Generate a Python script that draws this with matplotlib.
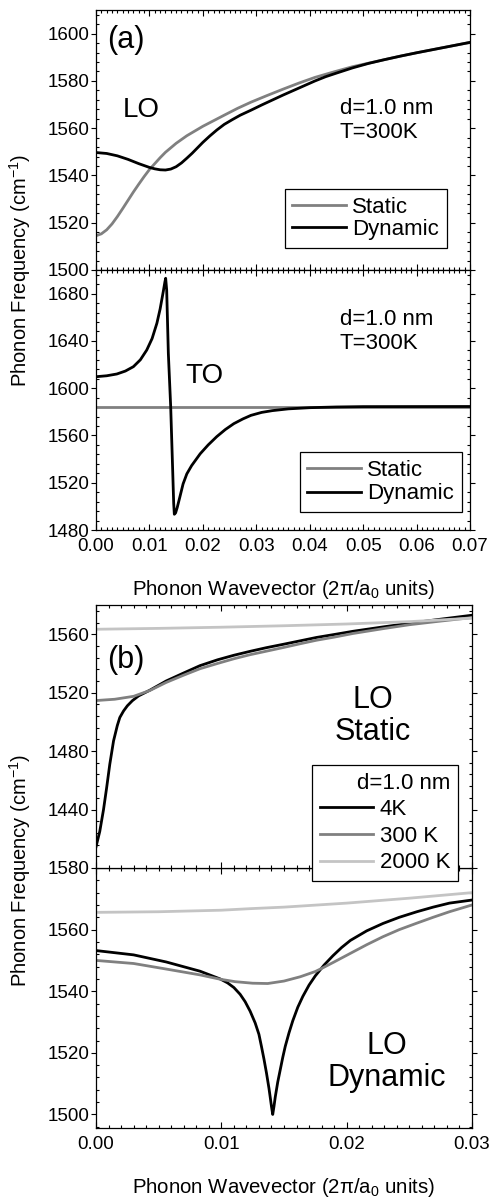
import matplotlib
matplotlib.use("Agg")
import matplotlib.pyplot as plt
from matplotlib.ticker import MultipleLocator, FixedLocator, FormatStrFormatter

plt.rcParams['font.family'] = ['Liberation Sans', 'DejaVu Sans']
plt.rcParams['mathtext.fontset'] = 'custom'
plt.rcParams['mathtext.rm'] = 'Liberation Sans'
plt.rcParams['mathtext.it'] = 'Liberation Sans:italic'
plt.rcParams['mathtext.default'] = 'regular'

# ---------------- data ----------------
# (a) LO, d=1.0 nm, T=300K
lo_static_q = [0, 0.001, 0.002, 0.003, 0.004, 0.005, 0.006, 0.007, 0.008, 0.009,
               0.010, 0.011, 0.012, 0.013, 0.015, 0.017, 0.020, 0.024, 0.0265, 0.029,
               0.032, 0.035, 0.038, 0.041, 0.0445, 0.048, 0.051, 0.054, 0.057, 0.060,
               0.065, 0.070]
lo_static_f = [1514.5, 1515.3, 1517.0, 1519.5, 1522.6, 1526.0, 1529.5, 1533.0, 1536.3, 1539.5,
               1542.5, 1545.0, 1547.5, 1549.8, 1553.6, 1556.8, 1560.8, 1565.5, 1568.4, 1571.0,
               1573.8, 1576.5, 1579.1, 1581.5, 1583.8, 1586.0, 1587.5, 1589.0, 1590.5, 1591.9,
               1594.1, 1596.3]
lo_dyn_q = [0, 0.002, 0.004, 0.006, 0.008, 0.010, 0.011, 0.012, 0.013, 0.014, 0.015,
            0.016, 0.017, 0.018, 0.019, 0.020, 0.0213, 0.0226, 0.024, 0.0255, 0.027,
            0.029, 0.031, 0.033, 0.035, 0.037, 0.039, 0.041, 0.043, 0.045, 0.048,
            0.051, 0.054, 0.057, 0.060, 0.065, 0.070]
lo_dyn_f = [1549.7, 1549.3, 1548.3, 1546.8, 1545.0, 1543.4, 1542.8, 1542.4, 1542.3, 1542.7, 1543.7,
            1545.3, 1547.3, 1549.4, 1551.7, 1554.0, 1556.7, 1559.2, 1561.6, 1563.6, 1565.5,
            1567.6, 1569.8, 1571.9, 1574.0, 1576.0, 1578.0, 1580.0, 1581.8, 1583.3, 1585.5,
            1587.4, 1589.0, 1590.5, 1591.9, 1594.1, 1596.3]

# (a) TO, d=1.0 nm, T=300K
to_static_q = [0, 0.070]
to_static_f = [1584.5, 1584.5]
to_dyn_q = [0, 0.002, 0.0039, 0.0055, 0.007, 0.0083, 0.0095, 0.0105, 0.0114, 0.0120,
            0.0126, 0.0129, 0.01304, 0.01323, 0.01354, 0.01398, 0.01435, 0.01454, 0.01466,
            0.0149, 0.0152, 0.0157, 0.0163, 0.0170, 0.0179, 0.0195, 0.0210, 0.0226,
            0.0242, 0.0258, 0.0275, 0.0290, 0.0310, 0.0330, 0.0360, 0.0400, 0.0450,
            0.0500, 0.0700]
to_dyn_f = [1609.7, 1610.5, 1612.0, 1614.5, 1618.2, 1624.0, 1632.3, 1642.0, 1655.0, 1667.0,
            1682.0, 1690.0, 1693.0, 1683.0, 1629.5, 1584.3, 1530.8, 1502.6, 1493.3,
            1494.5, 1499.0, 1508.0, 1519.0, 1527.5, 1534.5, 1544.5, 1552.0, 1559.0,
            1565.0, 1570.0, 1574.0, 1577.0, 1579.5, 1581.0, 1582.5, 1583.5, 1584.1,
            1584.4, 1584.5]

# (b) LO static, d=1.0 nm
st4_q = [0, 0.0003, 0.0006, 0.00085, 0.0011, 0.0014, 0.0017, 0.0019, 0.0022, 0.0025,
         0.0029, 0.0034, 0.0043, 0.0056, 0.007, 0.0083, 0.0097, 0.011, 0.0123, 0.0136,
         0.015, 0.0163, 0.0176, 0.019, 0.0205, 0.0229, 0.025, 0.0275, 0.030]
st4_f = [1414.5, 1425.0, 1440.0, 1455.0, 1471.0, 1487.0, 1497.5, 1503.0, 1507.5, 1511.0,
         1514.5, 1517.8, 1521.7, 1528.0, 1533.5, 1538.5, 1542.5, 1545.6, 1548.3, 1550.8,
         1553.2, 1555.5, 1557.8, 1559.8, 1562.0, 1565.0, 1567.5, 1570.3, 1573.0]
st300_q = [0, 0.0015, 0.003, 0.0043, 0.0056, 0.007, 0.0083, 0.0097, 0.011, 0.0123,
           0.0136, 0.015, 0.0163, 0.0176, 0.019, 0.0205, 0.0229, 0.025, 0.0275, 0.030]
st300_f = [1514.6, 1515.5, 1517.5, 1521.5, 1527.0, 1532.0, 1536.4, 1540.0, 1543.2, 1546.0,
           1548.4, 1551.0, 1553.5, 1555.9, 1558.0, 1560.5, 1563.8, 1566.5, 1569.0, 1571.4]
st2000_q = [0, 0.005, 0.010, 0.015, 0.020, 0.025, 0.030]
st2000_f = [1563.4, 1564.0, 1564.8, 1565.8, 1567.0, 1568.6, 1571.0]

# (b) LO dynamic, d=1.0 nm
dy4_q = [0, 0.003, 0.0056, 0.0083, 0.0099, 0.0105, 0.0110, 0.0115, 0.0119, 0.0123,
         0.0127, 0.0130, 0.0132, 0.0134, 0.0136, 0.0138, 0.0139, 0.0140, 0.0141,
         0.0142, 0.0143, 0.0145, 0.0147, 0.0149, 0.0151, 0.0154, 0.0157, 0.0161,
         0.0165, 0.0170, 0.0175, 0.0182, 0.0189, 0.0196, 0.0203, 0.0216, 0.0229,
         0.0242, 0.0256, 0.0269, 0.0282, 0.030]
dy4_f = [1553.2, 1551.8, 1549.5, 1546.5, 1544.0, 1542.7, 1541.2, 1539.0, 1536.6, 1533.5,
         1529.7, 1526.0, 1522.1, 1518.0, 1513.5, 1508.5, 1505.6, 1502.6, 1500.0,
         1502.6, 1505.6, 1510.5, 1514.5, 1518.5, 1522.1, 1526.5, 1530.4, 1534.8,
         1538.3, 1542.0, 1545.0, 1548.5, 1551.5, 1554.2, 1556.5, 1559.6, 1562.0,
         1564.0, 1565.8, 1567.3, 1568.6, 1569.6]
dy300_q = [0, 0.003, 0.0056, 0.0083, 0.0099, 0.0111, 0.0125, 0.0137, 0.015, 0.0163,
           0.0175, 0.0181, 0.019, 0.0203, 0.0216, 0.0229, 0.0242, 0.0256, 0.0269, 0.0282, 0.030]
dy300_f = [1550.0, 1549.0, 1547.2, 1545.3, 1543.9, 1543.1, 1542.6, 1542.5, 1543.3, 1544.7,
           1546.4, 1547.6, 1549.5, 1552.3, 1555.1, 1557.7, 1560.0, 1562.1, 1564.0, 1565.8, 1568.0]
dy2000_q = [0, 0.005, 0.010, 0.0123, 0.015, 0.020, 0.025, 0.030]
dy2000_f = [1565.6, 1565.8, 1566.3, 1566.8, 1567.3, 1568.6, 1570.2, 1572.0]

# ---------------- figure ----------------
W, H = 490, 1199
fig = plt.figure(figsize=(W / 100, H / 100), dpi=100)


def axpix(x0, y0, x1, y1):
    return fig.add_axes([x0 / W, 1 - y1 / H, (x1 - x0) / W, (y1 - y0) / H])


ax1 = axpix(96, 10, 470, 270)
ax2 = axpix(96, 270, 470, 530)
ax3 = axpix(96, 605, 472, 868)
ax4 = axpix(96, 868, 472, 1128)
ax3.set_zorder(3)

GRAY = '#808080'
LIGHT = '#c4c4c4'
LW = 2.0
TICK_FS = 13.5


def style(ax):
    for s in ax.spines.values():
        s.set_linewidth(0.9)
    ax.tick_params(which='both', direction='in', top=True, right=True,
                   labelsize=TICK_FS, width=0.8, pad=6)
    ax.tick_params(which='major', length=4.5)
    ax.tick_params(which='minor', length=2.5)
    ax.tick_params(axis='y', which='major', direction='out', pad=1.5, length=3.5)


for ax in (ax1, ax2, ax3, ax4):
    style(ax)

leg_kw = dict(fontsize=16, frameon=True, fancybox=False, framealpha=1, edgecolor='black',
              handlelength=2.4, handletextpad=0.3, borderpad=0.35,
              borderaxespad=0)

# ---- (a) top: LO ----
ax1.plot(lo_static_q, lo_static_f, color=GRAY, lw=LW, label='Static')
ax1.plot(lo_dyn_q, lo_dyn_f, color='black', lw=LW, label='Dynamic')
ax1.set_xlim(0, 0.07)
ax1.set_ylim(1500, 1610)
ax1.xaxis.set_major_locator(MultipleLocator(0.01))
ax1.xaxis.set_minor_locator(MultipleLocator(0.001))
ax1.yaxis.set_major_locator(MultipleLocator(20))
ax1.yaxis.set_minor_locator(MultipleLocator(4))
ax1.tick_params(labelbottom=False)
ax1.text(0.080, 0.885, '(a)', transform=ax1.transAxes, fontsize=22, ha='center', va='center')
ax1.text(0.120, 0.615, 'LO', transform=ax1.transAxes, fontsize=20, ha='center', va='center')
ax1.text(0.652, 0.575, 'd=1.0 nm\nT=300K', transform=ax1.transAxes, fontsize=16,
         ha='left', va='center', linespacing=1.15)
l1 = ax1.legend(loc='upper right', bbox_to_anchor=(0.9385, 0.3115), labelspacing=0.05, **leg_kw)
l1.get_frame().set_linewidth(0.9)

# ---- (a) bottom: TO ----
ax2.plot(to_static_q, to_static_f, color=GRAY, lw=LW, label='Static')
ax2.plot(to_dyn_q, to_dyn_f, color='black', lw=LW, label='Dynamic')
ax2.set_xlim(0, 0.07)
ax2.set_ylim(1480, 1700)
ax2.xaxis.set_major_locator(MultipleLocator(0.01))
ax2.xaxis.set_minor_locator(MultipleLocator(0.001))
ax2.yaxis.set_major_locator(FixedLocator([1480, 1520, 1560, 1600, 1640, 1680]))
ax2.yaxis.set_minor_locator(MultipleLocator(8))
ax2.xaxis.set_major_formatter(FormatStrFormatter('%.2f'))
ax2.text(0.289, 0.592, 'TO', transform=ax2.transAxes, fontsize=20, ha='center', va='center')
ax2.text(0.652, 0.763, 'd=1.0 nm\nT=300K', transform=ax2.transAxes, fontsize=16,
         ha='left', va='center', linespacing=1.15)
l2 = ax2.legend(loc='upper right', bbox_to_anchor=(0.9786, 0.30), labelspacing=0.12, **leg_kw)
l2.get_frame().set_linewidth(0.9)

# ---- (b) top: LO static ----
ax3.plot(st4_q, st4_f, color='black', lw=LW, label='4K')
ax3.plot(st300_q, st300_f, color=GRAY, lw=LW, label='300 K')
ax3.plot(st2000_q, st2000_f, color=LIGHT, lw=LW, label='2000 K')
ax3.set_xlim(0, 0.03)
ax3.set_ylim(1400, 1580)
ax3.xaxis.set_major_locator(MultipleLocator(0.01))
ax3.xaxis.set_minor_locator(MultipleLocator(0.001))
ax3.yaxis.set_major_locator(FixedLocator([1440, 1480, 1520, 1560]))
ax3.yaxis.set_minor_locator(MultipleLocator(8))
ax3.tick_params(labelbottom=False)
ax3.text(0.080, 0.791, '(b)', transform=ax3.transAxes, fontsize=22, ha='center', va='center')
ax3.text(0.737, 0.578, 'LO\nStatic', transform=ax3.transAxes, fontsize=22,
         ha='center', va='center', linespacing=1.1)
l3 = ax3.legend(loc='upper right', bbox_to_anchor=(0.963, 0.392), title='d=1.0 nm',
                title_fontsize=16, alignment='right', labelspacing=0.25, **leg_kw)
l3.get_frame().set_linewidth(0.9)
l3.set_zorder(10)

# ---- (b) bottom: LO dynamic ----
ax4.plot(dy4_q, dy4_f, color='black', lw=LW)
ax4.plot(dy300_q, dy300_f, color=GRAY, lw=LW)
ax4.plot(dy2000_q, dy2000_f, color=LIGHT, lw=LW)
ax4.set_xlim(0, 0.03)
ax4.set_ylim(1495.6, 1580)
ax4.xaxis.set_major_locator(MultipleLocator(0.01))
ax4.xaxis.set_minor_locator(MultipleLocator(0.001))
ax4.yaxis.set_major_locator(FixedLocator([1500, 1520, 1540, 1560, 1580]))
ax4.yaxis.set_minor_locator(MultipleLocator(4))
ax4.xaxis.set_major_formatter(FormatStrFormatter('%.2f'))
ax4.text(0.774, 0.254, 'LO\nDynamic', transform=ax4.transAxes, fontsize=22,
         ha='center', va='center', linespacing=1.1)

# ---- axis labels ----
ylab = 'Phonon Frequency (cm$^{-1}$)'
xlab = 'Phonon Wavevector (2π/a$_0$ units)'
fig.text(20 / W, 1 - 270 / H, ylab, rotation=90, fontsize=14.5, ha='center', va='center')
fig.text(20 / W, 1 - 870 / H, ylab, rotation=90, fontsize=14.5, ha='center', va='center')
fig.text(284 / W, 1 - 595 / H, xlab, fontsize=14.7, ha='center', va='baseline')
fig.text(284 / W, 1 - 1193 / H, xlab, fontsize=14.7, ha='center', va='baseline')

fig.savefig('out.png', dpi=100)
